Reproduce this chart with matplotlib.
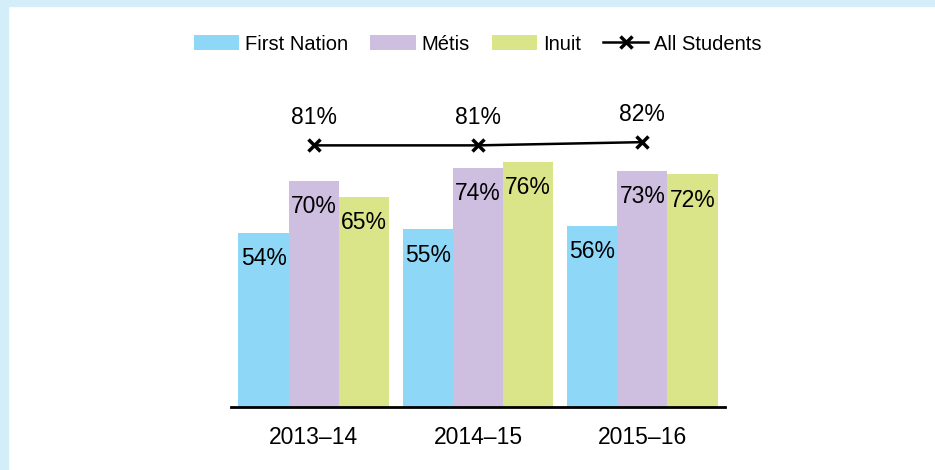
import numpy as np
import matplotlib
matplotlib.use("Agg")
import matplotlib.pyplot as plt
from matplotlib.patches import Rectangle

plt.rcParams["font.family"] = ["Liberation Sans", "DejaVu Sans"]

years = ["2013\u201314", "2014\u201315", "2015\u201316"]
series = ["First Nation", "Métis", "Inuit"]
first_nation = [54, 55, 56]
metis = [70, 74, 73]
inuit = [65, 76, 72]
all_students = [81, 81, 82]
colors = ["#8fd7f7", "#cebfe0", "#dae58a"]

fig = plt.figure(figsize=(9.35, 4.7), dpi=100)
# light blue frame on top and left edges
fig.patches.append(Rectangle((0, 1 - 6 / 470), 1, 6 / 470, transform=fig.transFigure,
                             color="#d3edf9", zorder=0))
fig.patches.append(Rectangle((0, 0), 8 / 935, 1, transform=fig.transFigure,
                             color="#d3edf9", zorder=0))

ax = fig.add_axes([231 / 935, 63 / 470, 494 / 935, 323 / 470])
x = np.arange(len(years))
w = 0.305
handles = []
for i, (name, vals) in enumerate(zip(series, [first_nation, metis, inuit])):
    xs = x + (i - 1) * w
    b = ax.bar(xs, vals, width=w, color=colors[i], linewidth=0, label=name)
    handles.append(b)
    for xi, v in zip(xs, vals):
        ax.annotate(f"{v}%", (xi, v), xytext=(0, -18.5), textcoords="offset points",
                    ha="center", va="center", fontsize=16.5)

ln, = ax.plot(x, all_students, color="black", lw=1.8, marker="x", markersize=9,
              markeredgewidth=2.5, label="All Students")
handles.append(ln)
for xi, v in zip(x, all_students):
    ax.annotate(f"{v}%", (xi, v), xytext=(0, 20), textcoords="offset points",
                ha="center", va="center", fontsize=16.5)

ax.set_xlim(-0.503, 2.503)
ax.set_ylim(0, 100)
ax.set_xticks(x)
ax.set_xticklabels(years, fontsize=16.5)
ax.tick_params(axis="x", length=0, pad=14)
ax.set_yticks([])
for s in ["top", "right", "left"]:
    ax.spines[s].set_visible(False)
ax.spines["bottom"].set_linewidth(2)

fig.legend(handles=handles, labels=series + ["All Students"],
           loc="center", bbox_to_anchor=(478 / 935, 1 - 44 / 470), ncol=4,
           frameon=False, fontsize=14.5, handlelength=2.24, handleheight=0.8,
           handletextpad=0.3, columnspacing=1.1)

fig.savefig("out.png", dpi=100)
